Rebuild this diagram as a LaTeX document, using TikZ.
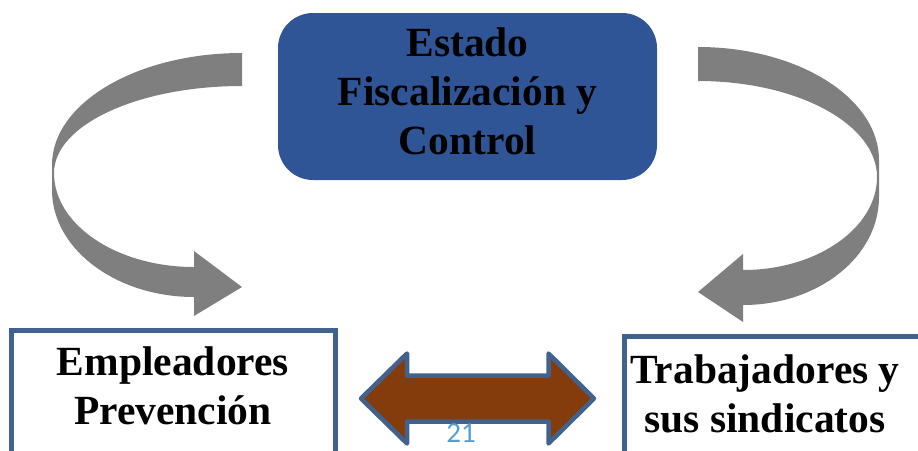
\documentclass[tikz,border=0pt]{standalone}
\usepackage{fontspec}
\setmainfont{Liberation Serif}
\newfontfamily\pagefont{Carlito}
\definecolor{estadoblue}{HTML}{2F5597}
\definecolor{edgeblue}{HTML}{41628F}
\definecolor{ribbongray}{HTML}{7F7F7F}
\definecolor{linkbrown}{HTML}{843C0C}
\definecolor{pageblue}{HTML}{5B9BD5}
\tikzset{
  ribbon/.style={fill=ribbongray},
  actor/.style={font=\fontsize{41.5}{49}\selectfont\bfseries, align=center, inner sep=0pt},
  actorframe/.style={draw=edgeblue, line width=5pt},
  linkarrow/.style={fill=linkbrown, draw=edgeblue, line width=4.5pt, line join=round},
}

\begin{document}
\begin{tikzpicture}[x=1pt,y=-1pt]
\useasboundingbox (0,0) rectangle (918,450);
\clip (0,0) rectangle (918,450);

\node[actor, fill=estadoblue, rounded corners=35pt, minimum width=379pt,
      minimum height=167pt, text depth=11pt] (estado) at (467.5,96.5)
      {Estado\\Fiscalización y\\Control};

% curved arrows
\fill[ribbon] (242,53) .. controls (137,53) and (52,103) .. (52,165) -- (52,190)
  .. controls (52,249) and (116,297) .. (194,297) -- (194,316) -- (242,287)
  -- (194,251) -- (194,267) .. controls (117,267) and (54,225) .. (54,173)
  .. controls (54,125) and (138,86) .. (242,86) -- cycle;
\fill[ribbon] (698,47) .. controls (798,47) and (879,98) .. (879,160) -- (879,197)
  .. controls (879,257) and (818,305) .. (743,305) -- (743,322) -- (698,292)
  -- (743,254) -- (743,270) .. controls (817,270) and (877,228) .. (877,177)
  .. controls (877,124) and (797,81) .. (698,81) -- cycle;

\draw[actorframe] (11.5,330.5) rectangle (335.5,480);
\draw[actorframe] (624.5,336.5) rectangle (930,480);
\node[actor] (empleadores) at (173,386) {Empleadores\\Prevención};
\node[actor] (trabajadores) at (765,393.5) {Trabajadores y\\sus sindicatos};

\draw[linkarrow] (361,398.5) -- (407,353.5) -- (407,375.5) -- (548.5,375.5)
  -- (548.5,353.5) -- (594,398.5) -- (548.5,443.5) -- (548.5,421.5)
  -- (407,421.5) -- (407,443.5) -- cycle;

\node[font=\pagefont\fontsize{29}{34}\selectfont, text=pageblue, anchor=base] (pagenum) at (461,442) {21};
\end{tikzpicture}
\end{document}
